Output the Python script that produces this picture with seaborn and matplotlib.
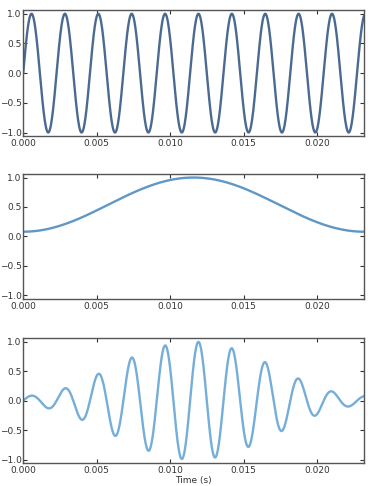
import numpy as np
import pandas as pd
import matplotlib
matplotlib.use("Agg")
import matplotlib.pyplot as plt
import seaborn as sns

# Parameters
sample_rate = 44100          # Hz
n_samples = 1024             # samples shown (0 .. 0.0232 s)
tone_freq = 440.0            # Hz, period ~0.00227 s
x_ticks = [0.000, 0.005, 0.010, 0.015, 0.020]
x_tick_labels = ["0.000", "0.005", "0.010", "0.015", "0.020"]
y_ticks = [-1.0, -0.5, 0.0, 0.5, 1.0]
y_tick_labels = ["\u22121.0", "\u22120.5", "0.0", "0.5", "1.0"]
x_label = "Time (s)"
line_colors = ["#4a6a92", "#5f97c6", "#74aed9"]

t = np.arange(n_samples) / sample_rate
tone = np.sin(2 * np.pi * tone_freq * t)
window = np.hamming(n_samples)
windowed = tone * window

df = pd.DataFrame({"time": t, "tone": tone, "window": window, "windowed": windowed})

sns.set_style("ticks")
plt.rcParams["font.family"] = ["DejaVu Sans"]

fig = plt.figure(figsize=(3.68, 4.86), dpi=100)
positions = [
    [0.063, 0.720, 0.926, 0.259],
    [0.063, 0.385, 0.926, 0.257],
    [0.063, 0.047, 0.926, 0.257],
]
series = ["tone", "window", "windowed"]
for i, (pos, col) in enumerate(zip(positions, series)):
    ax = fig.add_axes(pos)
    sns.lineplot(data=df, x="time", y=col, ax=ax, color=line_colors[i],
                 linewidth=1.7, estimator=None, sort=False)
    ax.set_xlim(0, t[-1])
    ax.set_ylim(-1.06, 1.06)
    ax.set_xticks(x_ticks)
    ax.set_xticklabels(x_tick_labels)
    ax.set_yticks(y_ticks)
    ax.set_yticklabels(y_tick_labels)
    ax.tick_params(direction="in", top=True, right=True, length=3, width=0.8,
                   labelsize=6.5, pad=2, color="#333333", labelcolor="#333333")
    ax.tick_params(axis="y", pad=1.2)
    for s in ax.spines.values():
        s.set_color("#555555")
        s.set_linewidth(1.0)
    ax.set_ylabel("")
    if i == 2:
        ax.set_xlabel(x_label, fontsize=6.5, color="#333333", labelpad=1)
    else:
        ax.set_xlabel("")

fig.savefig("out.png", dpi=100)
